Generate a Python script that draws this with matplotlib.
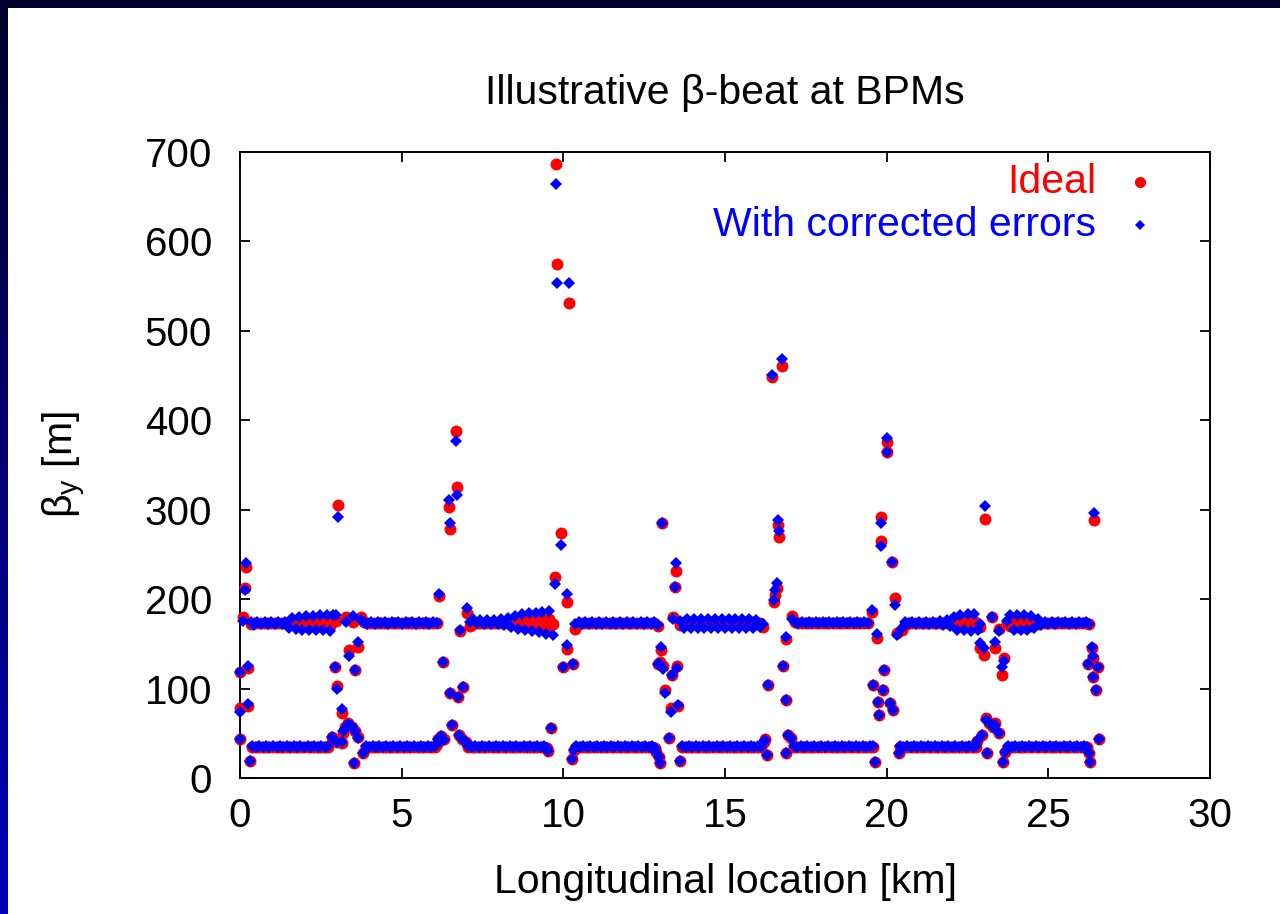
import numpy as np
import matplotlib
matplotlib.use('Agg')
import matplotlib.pyplot as plt
from matplotlib.patches import Rectangle

plt.rcParams['font.family'] = ['Liberation Sans', 'DejaVu Sans']
plt.rcParams['mathtext.fontset'] = 'custom'
plt.rcParams['mathtext.rm'] = 'Liberation Sans'

# ---- arc BPMs, high-beta band (one line per arc) ----
hi_s = [
    0.33, 0.44, 0.54, 0.65, 0.76, 0.86, 0.97, 1.08, 1.18, 1.29, 1.40, 1.50, 1.61, 1.72, 1.82, 1.93, 2.04, 2.14, 2.25, 2.36, 2.46, 2.57, 2.68, 2.78, 2.89,
    3.84, 3.94, 4.05, 4.16, 4.26, 4.37, 4.48, 4.58, 4.69, 4.80, 4.90, 5.01, 5.12, 5.22, 5.33, 5.44, 5.54, 5.65, 5.76, 5.86, 5.97, 6.08,
    7.11, 7.22, 7.33, 7.43, 7.54, 7.65, 7.75, 7.86, 7.97, 8.07, 8.18, 8.29, 8.39, 8.50, 8.61, 8.71, 8.82, 8.93, 9.03, 9.14, 9.25, 9.35, 9.46, 9.57, 9.67,
    10.36, 10.47, 10.57, 10.68, 10.79, 10.89, 11.00, 11.11, 11.21, 11.32, 11.43, 11.53, 11.64, 11.75, 11.85, 11.96, 12.07, 12.17, 12.28, 12.39, 12.49, 12.60, 12.71, 12.81, 12.92,
    13.62, 13.72, 13.83, 13.94, 14.04, 14.15, 14.26, 14.36, 14.47, 14.58, 14.68, 14.79, 14.90, 15.00, 15.11, 15.22, 15.32, 15.43, 15.54, 15.64, 15.75, 15.86, 15.96, 16.07, 16.18,
    17.06, 17.17, 17.27, 17.38, 17.49, 17.59, 17.70, 17.81, 17.91, 18.02, 18.13, 18.23, 18.34, 18.45, 18.55, 18.66, 18.77, 18.87, 18.98, 19.09, 19.19, 19.30, 19.41,
    20.47, 20.58, 20.68, 20.79, 20.90, 21.00, 21.11, 21.22, 21.32, 21.43, 21.54, 21.64, 21.75, 21.86, 21.96, 22.07, 22.18, 22.28, 22.39, 22.50, 22.60, 22.71, 22.82,
    23.71, 23.82, 23.93, 24.03, 24.14, 24.25, 24.35, 24.46, 24.57, 24.67, 24.78, 24.89, 24.99, 25.10, 25.21, 25.31, 25.42, 25.53, 25.63, 25.74, 25.85, 25.95, 26.06, 26.17, 26.27,
]
hi_ideal = [
    172, 173, 173, 173, 173, 173, 173, 173, 173, 173, 173, 173, 173, 173, 173, 173, 173, 172, 174, 171, 175, 171, 176, 170, 176,
    175, 173, 173, 173, 173, 173, 173, 173, 173, 173, 173, 173, 173, 173, 173, 173, 173, 173, 173, 173, 173, 173,
    170, 172, 173, 173, 173, 173, 173, 173, 173, 173, 173, 173, 173, 176, 170, 176, 169, 177, 169, 177, 168, 178, 168, 178, 172,
    167, 172, 173, 173, 173, 173, 173, 173, 173, 173, 173, 173, 173, 173, 173, 173, 173, 173, 173, 173, 173, 173, 173, 173, 170,
    171, 174, 172, 174, 172, 174, 172, 174, 172, 174, 172, 174, 172, 174, 172, 174, 172, 174, 172, 174, 172, 174, 172, 173, 169,
    181, 175, 173, 173, 173, 173, 173, 173, 173, 173, 173, 173, 173, 173, 173, 173, 173, 173, 173, 173, 173, 173, 173,
    166, 171, 173, 173, 173, 173, 173, 173, 173, 173, 173, 173, 173, 173, 173, 175, 171, 176, 170, 177, 169, 176, 172,
    175, 170, 177, 169, 177, 169, 176, 170, 175, 172, 173, 173, 173, 173, 173, 173, 173, 173, 173, 173, 173, 173, 173, 173, 172,
]
hi_corr = [
    175, 171, 174, 172, 174, 172, 174, 172, 174, 172, 175, 168, 179, 167, 180, 166, 181, 166, 181, 165, 182, 165, 182, 164, 182,
    174, 172, 174, 172, 174, 173, 174, 172, 174, 173, 174, 172, 174, 173, 174, 172, 174, 173, 174, 172, 174, 173,
    175, 178, 173, 177, 172, 177, 172, 177, 172, 178, 171, 179, 169, 181, 167, 183, 165, 184, 164, 185, 163, 186, 161, 187, 160,
    172, 175, 172, 175, 172, 175, 172, 175, 172, 175, 172, 175, 172, 175, 172, 175, 172, 175, 172, 175, 172, 175, 172, 175, 171,
    176, 168, 178, 168, 178, 168, 178, 168, 178, 168, 178, 168, 178, 168, 178, 168, 178, 168, 178, 168, 178, 168, 177, 169, 172,
    178, 174, 173, 174, 173, 174, 173, 174, 173, 174, 173, 174, 173, 174, 173, 174, 173, 174, 173, 174, 173, 174, 173,
    168, 174, 173, 175, 172, 175, 172, 175, 172, 175, 172, 176, 171, 177, 170, 180, 166, 182, 165, 183, 164, 183, 166,
    176, 182, 166, 182, 165, 182, 166, 181, 168, 178, 171, 175, 172, 174, 172, 174, 173, 174, 172, 174, 172, 174, 173, 174, 172,
]

# ---- arc BPMs, low-beta band ----
lo_s = [
    0.38, 0.49, 0.59, 0.70, 0.81, 0.91, 1.02, 1.13, 1.23, 1.34, 1.45, 1.55, 1.66, 1.77, 1.87, 1.98, 2.09, 2.19, 2.30, 2.41, 2.51, 2.62, 2.73,
    3.89, 3.99, 4.10, 4.21, 4.31, 4.42, 4.53, 4.63, 4.74, 4.85, 4.95, 5.06, 5.17, 5.27, 5.38, 5.49, 5.59, 5.70, 5.81, 5.91, 6.02,
    7.06, 7.17, 7.27, 7.38, 7.49, 7.59, 7.70, 7.81, 7.91, 8.02, 8.13, 8.23, 8.34, 8.45, 8.55, 8.66, 8.77, 8.87, 8.98, 9.09, 9.19, 9.30, 9.41,
    10.40, 10.51, 10.62, 10.72, 10.83, 10.94, 11.04, 11.15, 11.26, 11.36, 11.47, 11.58, 11.68, 11.79, 11.90, 12.00, 12.11, 12.22, 12.32, 12.43, 12.54, 12.64, 12.75,
    13.67, 13.78, 13.88, 13.99, 14.10, 14.20, 14.31, 14.42, 14.52, 14.63, 14.74, 14.84, 14.95, 15.06, 15.16, 15.27, 15.38, 15.48, 15.59, 15.70, 15.80, 15.91, 16.02, 16.12,
    17.12, 17.23, 17.34, 17.44, 17.55, 17.66, 17.76, 17.87, 17.98, 18.08, 18.19, 18.30, 18.40, 18.51, 18.62, 18.72, 18.83, 18.94, 19.04, 19.15, 19.26, 19.36, 19.47,
    20.42, 20.52, 20.63, 20.74, 20.84, 20.95, 21.06, 21.16, 21.27, 21.38, 21.48, 21.59, 21.70, 21.80, 21.91, 22.02, 22.12, 22.23, 22.34, 22.44, 22.55, 22.66, 22.76,
    23.76, 23.87, 23.97, 24.08, 24.19, 24.29, 24.40, 24.51, 24.61, 24.72, 24.83, 24.93, 25.04, 25.15, 25.25, 25.36, 25.47, 25.57, 25.68, 25.79, 25.89, 26.00, 26.11, 26.21,
]
lo_ideal = [
    35, 35, 35, 35, 35, 35, 35, 35, 35, 35, 35, 35, 35, 35, 35, 35, 35, 35, 35, 35, 35, 35, 35,
    35, 35, 35, 35, 35, 35, 35, 35, 35, 35, 35, 35, 35, 35, 35, 35, 35, 35, 35, 35, 35,
    35, 35, 35, 35, 35, 35, 35, 35, 35, 35, 35, 35, 35, 35, 35, 35, 35, 35, 35, 35, 35, 35, 35,
    35, 35, 35, 35, 35, 35, 35, 35, 35, 35, 35, 35, 35, 35, 35, 35, 35, 35, 35, 35, 35, 35, 35,
    35, 35, 35, 35, 35, 35, 35, 35, 35, 35, 35, 35, 35, 35, 35, 35, 35, 35, 35, 35, 35, 35, 35, 35,
    35, 35, 35, 35, 35, 35, 35, 35, 35, 35, 35, 35, 35, 35, 35, 35, 35, 35, 35, 35, 35, 35, 35,
    35, 35, 35, 35, 35, 35, 35, 35, 35, 35, 35, 35, 35, 35, 35, 35, 35, 35, 35, 35, 35, 35, 35,
    35, 35, 35, 35, 35, 35, 35, 35, 35, 35, 35, 35, 35, 35, 35, 35, 35, 35, 35, 35, 35, 35, 35, 35,
]
lo_corr = [
    36, 35, 36, 35, 36, 35, 36, 35, 36, 35, 36, 35, 36, 35, 36, 35, 36, 35, 36, 35, 36, 35, 36,
    36, 35, 36, 35, 36, 35, 36, 35, 36, 35, 36, 35, 36, 35, 36, 35, 36, 35, 36, 35, 36,
    36, 35, 36, 35, 36, 35, 36, 35, 36, 35, 36, 35, 36, 35, 36, 35, 36, 35, 36, 35, 36, 35, 36,
    36, 35, 36, 35, 36, 35, 36, 35, 36, 35, 36, 35, 36, 35, 36, 35, 36, 35, 36, 35, 36, 35, 36,
    36, 35, 36, 35, 36, 35, 36, 35, 36, 35, 36, 35, 36, 35, 36, 35, 36, 35, 36, 35, 36, 35, 36, 35,
    36, 35, 36, 35, 36, 35, 36, 35, 36, 35, 36, 35, 36, 35, 36, 35, 36, 35, 36, 35, 36, 35, 36,
    36, 35, 36, 35, 36, 35, 36, 35, 36, 35, 36, 35, 36, 35, 36, 35, 36, 35, 36, 35, 36, 35, 36,
    36, 35, 36, 35, 36, 35, 36, 35, 36, 35, 36, 35, 36, 35, 36, 35, 36, 35, 36, 35, 36, 35, 36, 35,
]

# ---- insertion-region BPMs (IR1 start, IR2 ... IR8, IR1 end) ----
ir_s = [
    0.00, 0.00, 0.00, 0.10, 0.15, 0.19, 0.26, 0.26, 0.31,
    2.84, 2.94, 2.97, 2.99, 3.01, 3.03, 3.14, 3.17, 3.20, 3.25, 3.27, 3.35, 3.38, 3.45, 3.50, 3.53, 3.55, 3.56, 3.64, 3.66, 3.73, 3.79,
    6.08, 6.13, 6.17, 6.22, 6.29, 6.30, 6.47, 6.50, 6.50, 6.55, 6.68, 6.70, 6.75, 6.77, 6.80, 6.88, 6.91, 7.00, 7.01,
    9.49, 9.54, 9.62, 9.74, 9.77, 9.81, 9.92, 10.00, 10.10, 10.12, 10.18, 10.26, 10.31, 10.33,
    12.83, 12.88, 12.93, 12.95, 12.99, 13.00, 13.02, 13.05, 13.07, 13.15, 13.28, 13.32, 13.35, 13.40, 13.45, 13.49, 13.52, 13.56, 13.61,
    16.20, 16.25, 16.29, 16.32, 16.45, 16.50, 16.56, 16.60, 16.65, 16.66, 16.76, 16.78, 16.88, 16.90, 16.90, 16.95, 17.05,
    19.54, 19.57, 19.59, 19.64, 19.69, 19.74, 19.76, 19.82, 19.84, 19.90, 19.92, 20.00, 20.02, 20.10, 20.16, 20.20, 20.26, 20.33, 20.39,
    22.80, 22.89, 22.89, 22.94, 23.01, 23.04, 23.07, 23.10, 23.17, 23.27, 23.28, 23.35, 23.35, 23.46, 23.46, 23.56, 23.60, 23.63, 23.65,
    26.24, 26.26, 26.29, 26.36, 26.37, 26.39, 26.42, 26.47, 26.55, 26.58,
]
ir_ideal = [
    44, 78, 119, 180, 212, 236, 123, 80, 19,
    46, 124, 176, 40, 103, 305, 39, 73, 50, 57, 180, 61, 143, 57, 175, 17, 52, 121, 147, 46, 180, 28,
    38, 44, 203, 47, 130, 44, 303, 278, 95, 59, 388, 325, 91, 48, 164, 44, 102, 40, 184,
    33, 30, 56, 225, 687, 575, 274, 124, 144, 197, 531, 21, 127, 31,
    33, 29, 128, 24, 17, 130, 143, 285, 125, 98, 45, 78, 115, 180, 214, 232, 125, 80, 19,
    40, 44, 26, 104, 448, 197, 205, 212, 283, 269, 461, 125, 87, 155, 28, 48, 45,
    186, 35, 104, 18, 156, 85, 70, 292, 265, 98, 121, 376, 364, 84, 242, 76, 201, 162, 28,
    41, 169, 145, 48, 137, 290, 67, 28, 62, 180, 57, 145, 61, 167, 50, 115, 18, 134, 29,
    128, 28, 18, 145, 113, 134, 288, 98, 124, 44,
]
ir_corr = [
    44, 74, 118, 176, 210, 240, 125, 83, 19,
    46, 124, 182, 40, 100, 292, 40, 77, 53, 55, 175, 60, 136, 58, 181, 17, 52, 121, 152, 45, 177, 28,
    38, 44, 206, 47, 130, 43, 311, 285, 95, 59, 377, 316, 91, 48, 166, 44, 102, 40, 190,
    33, 30, 56, 217, 664, 554, 260, 124, 149, 206, 554, 21, 127, 31,
    33, 29, 128, 24, 17, 127, 147, 285, 122, 95, 45, 74, 115, 178, 214, 240, 123, 82, 19,
    40, 43, 26, 104, 451, 199, 210, 218, 289, 276, 469, 125, 87, 158, 28, 48, 45,
    188, 36, 104, 18, 161, 85, 70, 285, 259, 98, 121, 380, 365, 84, 242, 76, 194, 160, 28,
    41, 172, 151, 48, 145, 304, 65, 28, 63, 180, 57, 152, 59, 164, 50, 124, 18, 131, 29,
    128, 28, 18, 147, 113, 136, 296, 98, 124, 44,
]

x_ticks = [0, 5, 10, 15, 20, 25, 30]
y_ticks = [0, 100, 200, 300, 400, 500, 600, 700]

s_all = np.array(hi_s + lo_s + ir_s)
ideal_all = np.array(hi_ideal + lo_ideal + ir_ideal)
corr_all = np.array(hi_corr + lo_corr + ir_corr)

W, H = 1280, 914
fig = plt.figure(figsize=(W / 100, H / 100), dpi=100)

# background: dark blue gradient frame + white sheet
bg = fig.add_axes([0, 0, 1, 1], zorder=-10)
grad = np.linspace(0, 1, 256).reshape(-1, 1)
cmap = matplotlib.colors.LinearSegmentedColormap.from_list('frame', ['#00002a', '#0000b8'])
bg.imshow(grad, aspect='auto', cmap=cmap, extent=[0, 1, 0, 1], origin='upper')
bg.add_patch(Rectangle((8 / W, 0), 1, 1 - 8 / H, facecolor='white', edgecolor='none'))
bg.set_xlim(0, 1)
bg.set_ylim(0, 1)
bg.axis('off')

ax = fig.add_axes([240 / W, 1 - 778 / H, 970 / W, 626 / H])
ax.set_facecolor('white')

ax.plot(s_all, ideal_all, 'o', color='#ff0000', ms=8.6, mew=0, clip_on=False, zorder=3)
ax.plot(s_all, corr_all, 'D', color='#0000ff', ms=6.2, mew=0, clip_on=False, zorder=4)

ax.set_xlim(0, 30)
ax.set_ylim(0, 700)
ax.set_xticks(x_ticks)
ax.set_yticks(y_ticks)
ax.tick_params(direction='in', length=7.5, width=1.3, top=True, right=True,
               labelsize=29, pad=14, colors='black')
ax.tick_params(axis='y', pad=20)
for sp in ax.spines.values():
    sp.set_linewidth(1.4)

# legend drawn gnuplot-style: right-justified text then the symbol
ax.text(0.8825, 0.952, 'Ideal', transform=ax.transAxes, ha='right', va='center',
        fontsize=29.5, color='#ff0000')
ax.plot([0.928], [0.952], 'o', color='#ff0000', ms=8.0, mew=0, transform=ax.transAxes)
ax.text(0.8825, 0.883, 'With corrected errors', transform=ax.transAxes, ha='right',
        va='center', fontsize=29.5, color='#0000ff')
ax.plot([0.928], [0.883], 'D', color='#0000ff', ms=5.6, mew=0, transform=ax.transAxes)

fig.text(725 / W, 1 - 93 / H, 'Illustrative β-beat at BPMs', ha='center', va='center',
         fontsize=29.5)
fig.text(725 / W, 1 - 882 / H, 'Longitudinal location [km]', ha='center', va='center',
         fontsize=29.5)
fig.text(65 / W, 1 - 465 / H, r'$\mathrm{\beta_y}$ [m]', ha='center', va='center',
         rotation=90, fontsize=29.5)

fig.savefig('out.png', dpi=100)
